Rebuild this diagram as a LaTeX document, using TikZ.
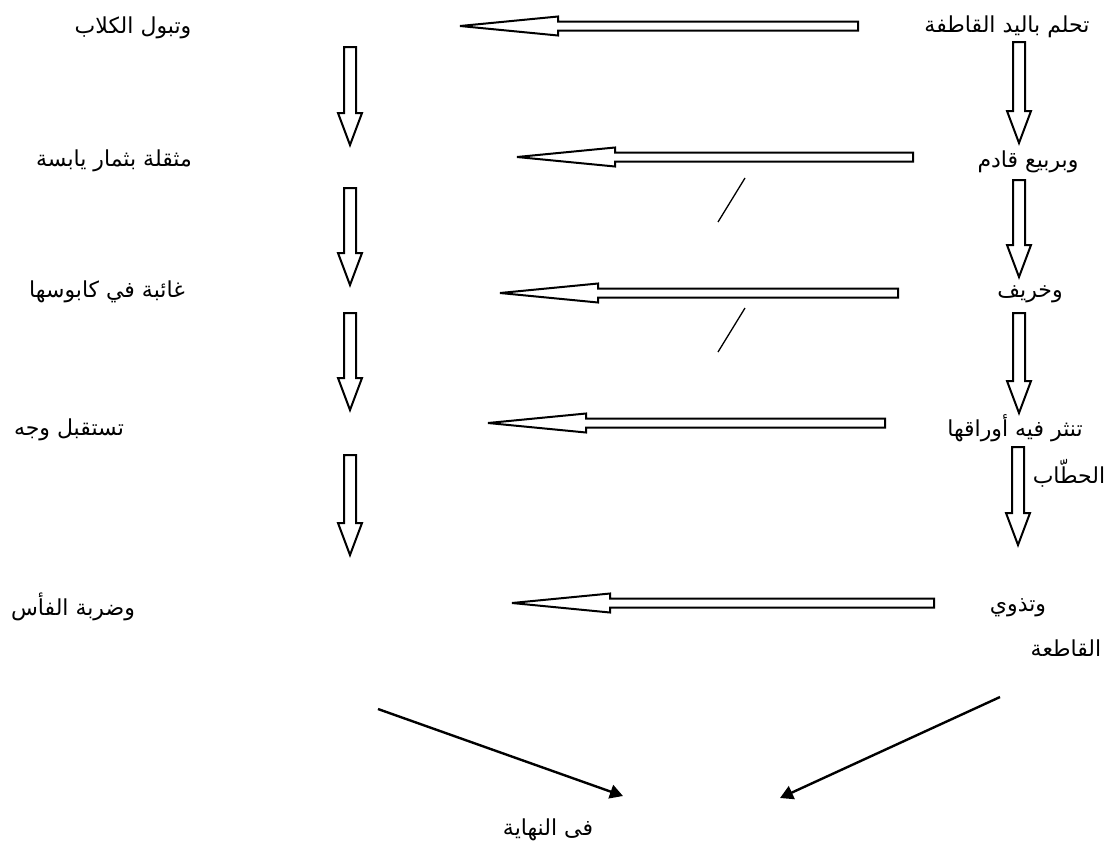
\documentclass[tikz,border=0pt]{standalone}
\usepackage{fontspec}
\TeXXeTstate=1
\newfontfamily\arabicfont[Script=Arabic]{DejaVu Sans}
\usetikzlibrary{arrows.meta}

% block arrow pointing left: tail x, tip x, centre y
\newcommand\leftblock[3]{%
  \draw[blockline] (#1,#3-4.5) -- (#2+98,#3-4.5) -- (#2+98,#3-9.5) -- (#2,#3)
    -- (#2+98,#3+9.5) -- (#2+98,#3+4.5) -- (#1,#3+4.5) -- cycle;}
% block arrow pointing down: centre x, top y, tip y
\newcommand\downblock[3]{%
  \draw[blockline] (#1-6,#2) -- (#1+6,#2) -- (#1+6,#3-32) -- (#1+12,#3-32) -- (#1,#3)
    -- (#1-12,#3-32) -- (#1-6,#3-32) -- cycle;}

\tikzset{
  blockline/.style={draw=black, line width=2pt, fill=white, line join=miter},
  verse/.style={font=\fontsize{22}{26}\selectfont\arabicfont, inner sep=0pt},
  slash/.style={draw=black, line width=1.3pt},
  final/.style={draw=black, line width=2.4pt, -{Triangle[length=13pt,width=14pt]}},
}

\begin{document}
\begin{tikzpicture}[x=1pt,y=-1pt]
\useasboundingbox (0,0) rectangle (1107,844);

% right column
\node[verse] (r1) at (1007,27) {\beginR تحلم باليد القاطفة\endR};
\node[verse] (r2) at (1028,162) {\beginR وبربيع قادم\endR};
\node[verse] (r3) at (1030,294) {\beginR وخريف\endR};
\node[verse] (r4) at (1015,428) {\beginR تنثر فيه أوراقها\endR};
\node[verse] (r4b) at (1069,473) {\beginR الحطّاب\endR};
\node[verse] (r5) at (1018,608) {\beginR وتذوي\endR};
\node[verse] (r5b) at (1066,648) {\beginR القاطعة\endR};

% left column
\node[verse] (l1) at (133,28) {\beginR وتبول الكلاب\endR};
\node[verse] (l2) at (114,161) {\beginR مثقلة بثمار يابسة\endR};
\node[verse] (l3) at (107,292) {\beginR غائبة في كابوسها\endR};
\node[verse] (l4) at (69,430) {\beginR تستقبل وجه\endR};
\node[verse] (l5) at (73,607) {\beginR وضربة الفأس\endR};

% bottom
\node[verse] (end) at (548,830) {\beginR فى النهاية\endR};

% horizontal block arrows
\leftblock{858}{460}{26}
\leftblock{913}{517}{157}
\leftblock{898}{500}{293}
\leftblock{885}{488}{423}
\leftblock{934}{512}{603}

% vertical block arrows, right column
\downblock{1019}{42}{143}
\downblock{1019}{180}{277}
\downblock{1019}{313}{413}
\downblock{1018}{447}{545}

% vertical block arrows, left column
\downblock{350}{47}{145}
\downblock{350}{188}{285}
\downblock{350}{313}{410}
\downblock{350}{455}{555}

% small slashes
\coordinate (s1a) at (718,222); \coordinate (s1b) at (745,178);
\coordinate (s2a) at (718,352); \coordinate (s2b) at (745,308);
\draw[slash] (s1a) -- (s1b);
\draw[slash] (s2a) -- (s2b);

% converging arrows
\coordinate (dl) at (378,709); \coordinate (tl) at (623,796);
\coordinate (dr) at (1000,697); \coordinate (tr) at (780,798);
\draw[final] (dl) -- (tl);
\draw[final] (dr) -- (tr);
\end{tikzpicture}
\end{document}
